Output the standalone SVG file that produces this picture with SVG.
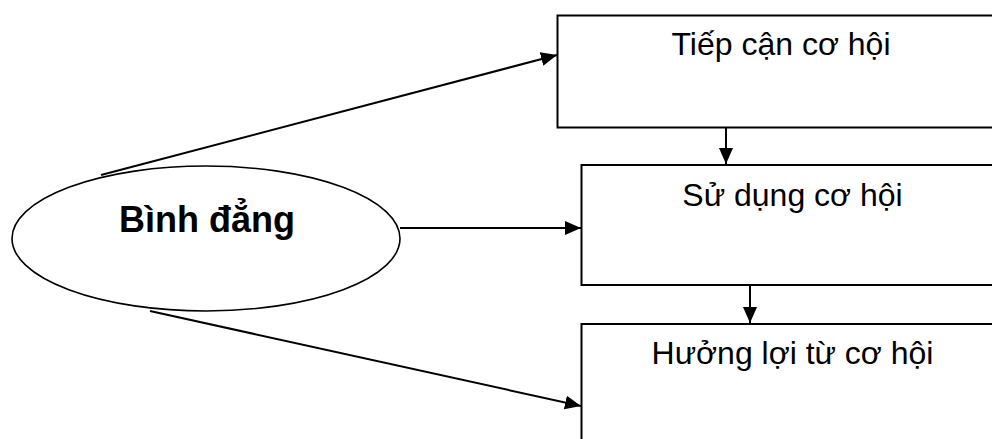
<svg xmlns="http://www.w3.org/2000/svg" width="992" height="439" viewBox="0 0 992 439">
  <style>
    .box { fill: #fff; stroke: #000; stroke-width: 2; }
    .ell { fill: #fff; stroke: #000; stroke-width: 1.6; }
    .lbl { font-family: "Liberation Sans", Arial, sans-serif; font-size: 32px; fill: #000; text-anchor: middle; }
    .big { font-family: "Liberation Sans", Arial, sans-serif; font-size: 36px; font-weight: bold; fill: #000; text-anchor: middle; }
    .edge { stroke: #000; stroke-width: 2; fill: none; marker-end: url(#ah); }
  </style>
  <defs>
    <marker id="ah" viewBox="0 0 16 14" refX="16" refY="7" markerWidth="16" markerHeight="14" markerUnits="userSpaceOnUse" orient="auto">
      <path d="M0,0 L16,7 L0,14 Z" fill="#000"/>
    </marker>
  </defs>
  <rect width="992" height="439" fill="#fff"/>
  <g id="connectors">
    <line class="edge" x1="101" y1="175" x2="557" y2="55"/>
    <line class="edge" x1="400" y1="228" x2="581" y2="228"/>
    <line class="edge" x1="150" y1="311" x2="581" y2="406"/>
    <line class="edge" x1="726" y1="127" x2="726" y2="164"/>
    <line class="edge" x1="750" y1="285" x2="750" y2="323"/>
  </g>
  <g id="binh-dang">
    <ellipse class="ell" cx="206" cy="238.5" rx="194" ry="72.5"/>
    <text class="big" x="207" y="232">Bình đẳng</text>
  </g>
  <g id="tiep-can">
    <rect class="box" x="557.5" y="15.5" width="450" height="112"/>
    <text class="lbl" x="781" y="54.5">Tiếp cận cơ hội</text>
  </g>
  <g id="su-dung">
    <rect class="box" x="581.5" y="165" width="425" height="120"/>
    <text class="lbl" x="792.5" y="205.5">Sử dụng cơ hội</text>
  </g>
  <g id="huong-loi">
    <rect class="box" x="581.5" y="324" width="425" height="130"/>
    <text class="lbl" x="792.5" y="363.5">Hưởng lợi từ cơ hội</text>
  </g>
</svg>
